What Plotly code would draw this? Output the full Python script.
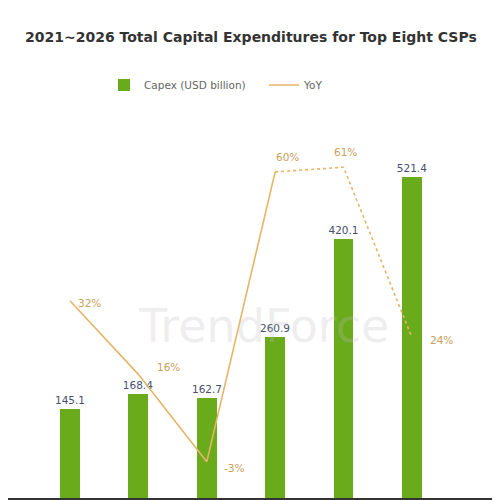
import plotly.graph_objects as go

years = ["2021", "2022", "2023", "2024", "2025E", "2026F"]
capex = [145.1, 168.4, 162.7, 260.9, 420.1, 521.4]
yoy = [32, 16, -3, 60, 61, 24]
capex_labels = ["145.1", "168.4", "162.7", "260.9", "420.1", "521.4"]
yoy_labels = ["32%", "16%", "-3%", "60%", "61%", "24%"]

idx = list(range(len(years)))
# label offsets (pixels) for YoY labels
yoy_dx = [20, 30, 27, 12, 2, 30]
yoy_dy = [-2, 7, -6, 15, 15, -2]

fig = go.Figure()
fig.add_trace(go.Bar(
    x=idx, y=capex, name="Capex (USD billion)",
    marker=dict(color="#6aab1c", line=dict(width=0)),
    width=0.29,
    text=capex_labels, textposition="outside", constraintext="none",
    textfont=dict(size=10.5, color="#46506e", family="DejaVu Sans"),
    cliponaxis=False,
))
fig.add_trace(go.Scatter(
    x=idx[:4], y=yoy[:4], yaxis="y2", mode="lines", name="YoY",
    line=dict(color="#e6b468", width=1.6),
))
fig.add_trace(go.Scatter(
    x=idx[3:], y=yoy[3:], yaxis="y2", mode="lines", name="YoY",
    line=dict(color="#e6b468", width=1.6, dash="dot"),
    showlegend=False,
))
for i in idx:
    fig.add_annotation(
        x=i, y=yoy[i], xref="x", yref="y2", text=yoy_labels[i], showarrow=False,
        xshift=yoy_dx[i], yshift=yoy_dy[i],
        font=dict(size=10.5, color="#c9a05a", family="DejaVu Sans"),
    )

fig.add_annotation(
    text="<b>2021~2026 Total Capital Expenditures for Top Eight CSPs</b>",
    xref="paper", yref="paper", x=0.486, y=0.962, showarrow=False,
    font=dict(size=14, color="#333333", family="DejaVu Sans"),
)
fig.add_annotation(
    text="TrendForce", xref="paper", yref="paper", x=0.51, y=0.352,
    showarrow=False, font=dict(size=46, color="rgba(190,190,190,0.25)", family="DejaVu Sans"),
)

fig.update_layout(
    width=500, height=500,
    margin=dict(l=0, r=0, t=0, b=10),
    paper_bgcolor="white", plot_bgcolor="white",
    showlegend=True,
    legend=dict(orientation="h", x=0.192, y=0.843, xanchor="left", yanchor="middle",
                entrywidth=115, entrywidthmode="pixels",
                font=dict(size=10.5, color="#666666", family="DejaVu Sans"),
                bgcolor="rgba(0,0,0,0)"),
    xaxis=dict(range=[-0.906, 6.404], showticklabels=False, showgrid=False,
               zeroline=False, showline=True, linecolor="#333333", linewidth=2,
               ticks=""),
    yaxis=dict(range=[0, 795.8], visible=False, showgrid=False),
    yaxis2=dict(range=[-10.86, 95.6], overlaying="y", visible=False, showgrid=False),
    bargap=0,
)

fig.write_html("out.html")
